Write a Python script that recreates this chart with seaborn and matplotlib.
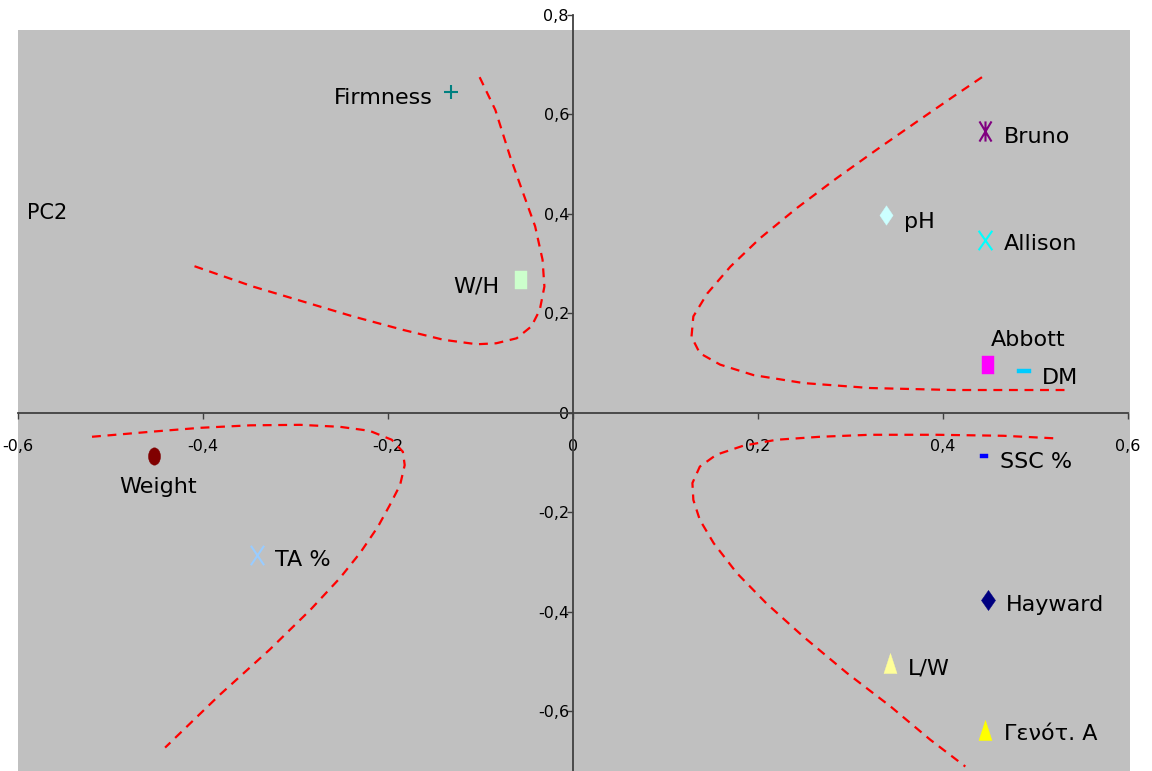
import numpy as np
import pandas as pd
import matplotlib
matplotlib.use("Agg")
import matplotlib.pyplot as plt
import seaborn as sns
from matplotlib.path import Path
from matplotlib.transforms import Affine2D
from matplotlib.ticker import MultipleLocator, FuncFormatter

# loadings / scores
names = ['Firmness', 'W/H', 'Bruno', 'pH', 'Allison', 'Abbott', 'DM',
         'SSC %', 'Weight', 'TA %', 'Hayward', 'L/W', 'Γενότ. A']
pc1 = [-0.132, -0.056, 0.445, 0.338, 0.445, 0.449, 0.487,
       0.444, -0.453, -0.342, 0.448, 0.343, 0.445]
pc2 = [0.646, 0.267, 0.567, 0.397, 0.348, 0.097, 0.084,
       -0.086, -0.086, -0.285, -0.376, -0.503, -0.637]

# dashed red boundary curves, read point by point
upper_left_x = [-0.101, -0.084, -0.068, -0.054, -0.041, -0.033, -0.031, -0.036, -0.045,
                -0.061, -0.083, -0.104, -0.140, -0.184, -0.238, -0.292, -0.346, -0.414]
upper_left_y = [0.675, 0.609, 0.515, 0.442, 0.375, 0.308, 0.254, 0.207, 0.174,
                0.150, 0.140, 0.138, 0.147, 0.167, 0.194, 0.224, 0.254, 0.298]
upper_right_x = [0.442, 0.411, 0.372, 0.328, 0.285, 0.242, 0.202, 0.170, 0.145,
                 0.130, 0.128, 0.137, 0.159, 0.195, 0.249, 0.321, 0.411, 0.537]
upper_right_y = [0.675, 0.636, 0.586, 0.529, 0.472, 0.412, 0.351, 0.294, 0.240,
                 0.194, 0.153, 0.120, 0.097, 0.076, 0.060, 0.050, 0.046, 0.046]
lower_right_x = [0.519, 0.465, 0.393, 0.321, 0.267, 0.220, 0.184, 0.155, 0.137, 0.129,
                 0.130, 0.137, 0.152, 0.177, 0.209, 0.249, 0.296, 0.343, 0.386, 0.424]
lower_right_y = [-0.051, -0.046, -0.044, -0.044, -0.048, -0.054, -0.066, -0.084, -0.108, -0.141,
                 -0.175, -0.215, -0.262, -0.322, -0.383, -0.450, -0.523, -0.590, -0.657, -0.711]
lower_left_x = [-0.520, -0.457, -0.403, -0.349, -0.295, -0.252, -0.220, -0.196, -0.184, -0.182,
                -0.187, -0.198, -0.211, -0.230, -0.252, -0.284, -0.328, -0.382, -0.441]
lower_left_y = [-0.048, -0.038, -0.030, -0.025, -0.024, -0.028, -0.036, -0.054, -0.078, -0.105,
                -0.145, -0.185, -0.229, -0.281, -0.332, -0.396, -0.476, -0.567, -0.673]

curves = [(upper_left_x, upper_left_y), (upper_right_x, upper_right_y),
          (lower_right_x, lower_right_y), (lower_left_x, lower_left_y)]


def rect(w, h):
    return Path([(-w, -h), (w, -h), (w, h), (-w, h), (-w, -h)],
                [Path.MOVETO, Path.LINETO, Path.LINETO, Path.LINETO, Path.CLOSEPOLY])


def diamond(w):
    return Path([(0, 1), (w, 0), (0, -1), (-w, 0), (0, 1)],
                [Path.MOVETO, Path.LINETO, Path.LINETO, Path.LINETO, Path.CLOSEPOLY])


def triangle(w):
    return Path([(0, 1), (w, -1), (-w, -1), (0, 1)],
                [Path.MOVETO, Path.LINETO, Path.LINETO, Path.CLOSEPOLY])


def cross(w, star=False):
    v = [(-w, -1), (w, 1), (-w, 1), (w, -1)]
    c = [Path.MOVETO, Path.LINETO, Path.MOVETO, Path.LINETO]
    if star:
        v += [(0, -1), (0, 1)]
        c += [Path.MOVETO, Path.LINETO]
    return Path(v, c)


ellipse = Affine2D().scale(0.7, 1.0).transform_path(Path.unit_circle())

# marker, colour, size (pt), line width, label offset (pt), alignment
style = {
    'Firmness': ('+', '#008080', 10, 1.5, (-13, -9), 'right'),
    'W/H': (rect(0.65, 1), '#ccffcc', 12.5, 0.3, (-15.5, -9), 'right'),
    'Bruno': (cross(0.6, True), '#800080', 14.5, 1.5, (13.5, -8.6), 'left'),
    'pH': (diamond(0.68), '#ccffff', 14, 0.3, (13, -9), 'left'),
    'Allison': (cross(0.7), '#00ffff', 14, 1.5, (13.5, -7.4), 'left'),
    'Abbott': (rect(0.7, 1), '#ff00ff', 12.5, 0.3, (1.5, 13.2), 'left'),
    'DM': (rect(1, 0.28), '#00ccff', 10, 0.3, (13.4, -9.1), 'left'),
    'SSC %': (rect(1, 0.6), '#0000ff', 5.8, 0.3, (12, -9), 'left'),
    'Weight': (ellipse, '#800000', 12.5, 0.3, (3, -27), 'center'),
    'TA %': (cross(0.68), '#99ccff', 14, 1.5, (13.5, -8), 'left'),
    'Hayward': (diamond(0.7), '#000080', 14.5, 0.3, (13.4, -7.7), 'left'),
    'L/W': (triangle(0.65), '#ffff99', 14.5, 0.3, (12.5, -8.4), 'left'),
    'Γενότ. A': (triangle(0.65), '#ffff00', 14.5, 0.3, (13.5, -7.7), 'left'),
}

df = pd.DataFrame({'name': names, 'pc1': pc1, 'pc2': pc2})

sns.set_style("white")
plt.rcParams['font.family'] = ['DejaVu Sans']
plt.rcParams['text.color'] = 'black'

fig = plt.figure(figsize=(11.52, 7.71), dpi=100)
ax = fig.add_axes([18 / 1152, 0, 1112 / 1152, 756 / 771])
ax.set_facecolor('white')
ax.axhspan(-1, 0.77, color='#c0c0c0', zorder=0, lw=0)

for cx, cy in curves:
    sns.lineplot(x=cx, y=cy, sort=False, estimator=None, color='red', lw=1.6,
                 linestyle=(0, (4, 3)), ax=ax, zorder=2)

for _, row in df.iterrows():
    mk, col, size, lw, off, ha = style[row['name']]
    sns.scatterplot(x=[row['pc1']], y=[row['pc2']], marker=mk, s=size ** 2, color=col,
                    edgecolor=col, linewidth=lw, ax=ax, zorder=4, legend=False)
    ax.annotate(row['name'], (row['pc1'], row['pc2']), xytext=off, textcoords='offset points',
                ha=ha, va='baseline', fontsize=16, color='black', zorder=5)

ax.text(-0.590, 0.390, 'PC2', fontsize=15, va='baseline', ha='left', color='black')

ax.set_xlim(-0.6, 0.602)
ax.set_ylim(-0.72, 0.8)
for side in ['top', 'right']:
    ax.spines[side].set_visible(False)
ax.spines['left'].set_position(('data', 0))
ax.spines['bottom'].set_position(('data', 0))
ax.spines['bottom'].set_bounds(-0.6, 0.6)
for side in ['left', 'bottom']:
    ax.spines[side].set_color('#404040')
    ax.spines[side].set_linewidth(1.3)
    ax.spines[side].set_zorder(3)

fmt = FuncFormatter(lambda v, p: '0' if abs(v) < 1e-9 else f"{v:.1f}".replace('.', ','))
ax.xaxis.set_major_locator(MultipleLocator(0.2))
ax.yaxis.set_major_locator(MultipleLocator(0.2))
ax.xaxis.set_major_formatter(fmt)
ax.yaxis.set_major_formatter(fmt)
ax.tick_params(axis='x', direction='out', length=4, width=1, color='#404040',
               pad=15, labelsize=11.5, labelcolor='black', bottom=True)
ax.tick_params(axis='y', direction='out', length=4, width=1, color='#404040',
               pad=-1, labelsize=11.5, labelcolor='black', left=True)
ax.set_xlabel('')
ax.set_ylabel('')

fig.savefig('out.png', dpi=100)
plt.close('all')
